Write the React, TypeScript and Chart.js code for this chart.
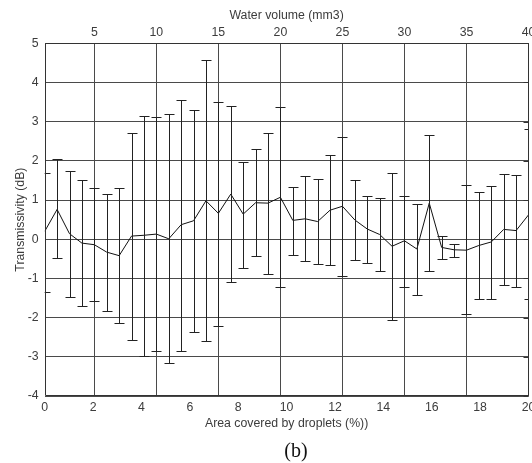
import React, { useEffect, useRef } from "react";
import { Chart, registerables } from "chart.js";

Chart.register(...registerables);

// Water volume (mm3) of each measurement
const waterVolume = [
  1, 2, 3, 4, 5, 6, 7, 8, 9, 10,
  11, 12, 13, 14, 15, 16, 17, 18, 19, 20,
  21, 22, 23, 24, 25, 26, 27, 28, 29, 30,
  31, 32, 33, 34, 35, 36, 37, 38, 39, 40,
];

// Mean transmissivity (dB)
const transmissivity = [
  0.2, 0.76, 0.14, -0.1, -0.14, -0.33, -0.42, 0.08, 0.1, 0.13,
  0.01, 0.37, 0.47, 0.98, 0.66, 1.15, 0.64, 0.93, 0.92, 1.07,
  0.48, 0.52, 0.45, 0.74, 0.84, 0.49, 0.26, 0.12, -0.18, -0.04,
  -0.25, 0.92, -0.21, -0.27, -0.28, -0.16, -0.07, 0.25, 0.22, 0.62,
];

// Error bar upper ends (dB)
const upperBound = [
  1.7, 2.04, 1.74, 1.51, 1.3, 1.15, 1.3, 2.71, 3.15, 3.11,
  3.2, 3.56, 3.29, 4.58, 3.51, 3.41, 1.96, 2.29, 2.7, 3.36,
  1.34, 1.6, 1.53, 2.14, 2.61, 1.52, 1.11, 1.06, 1.69, 1.1,
  0.91, 2.66, 0.07, -0.11, 1.37, 1.21, 1.36, 1.67, 1.64, 2.8,
];

// Error bar lower ends (dB)
const lowerBound = [
  -1.35, -0.47, -1.47, -1.71, -1.58, -1.82, -2.15, -2.56, -2.97, -2.84,
  -3.17, -2.84, -2.36, -2.6, -2.22, -1.08, -0.73, -0.42, -0.89, -1.21,
  -0.4, -0.56, -0.62, -0.67, -0.93, -0.52, -0.6, -0.82, -2.05, -1.21,
  -1.43, -0.82, -0.51, -0.45, -1.92, -1.52, -1.52, -1.18, -1.22, -1.52,
];

const volumeTicks = [5, 10, 15, 20, 25, 30, 35, 40];
const areaTicks = [0, 2, 4, 6, 8, 10, 12, 14, 16, 18, 20];
const yTicks = [-4, -3, -2, -1, 0, 1, 2, 3, 4, 5];

const FONT = "'Liberation Sans', Arial, sans-serif";
const FSIZE = 12.3;
const TEXT = "#3c3c3c";
const GRID = "#4a4a4a";
const FRAME = "#333333";

const errorBarPlugin = {
  id: "errorBars",
  afterDatasetsDraw(chart: any) {
    const { ctx, chartArea: a, scales } = chart;
    const xs = scales.xTop;
    const ys = scales.y;
    ctx.save();
    ctx.beginPath();
    ctx.rect(a.left, a.top, a.right - a.left, a.bottom - a.top);
    ctx.clip();
    ctx.strokeStyle = "#222222";
    ctx.lineWidth = 1;
    ctx.beginPath();
    waterVolume.forEach((v, i) => {
      const x = Math.round(xs.getPixelForValue(v)) + 0.5;
      const yU = Math.round(ys.getPixelForValue(upperBound[i])) + 0.5;
      const yL = Math.round(ys.getPixelForValue(lowerBound[i])) + 0.5;
      ctx.moveTo(x, yU);
      ctx.lineTo(x, yL);
      ctx.moveTo(x - 5, yU);
      ctx.lineTo(x + 5, yU);
      ctx.moveTo(x - 5, yL);
      ctx.lineTo(x + 5, yL);
    });
    ctx.stroke();
    ctx.restore();

    // frame and right-side tick marks
    ctx.save();
    ctx.strokeStyle = FRAME;
    ctx.lineWidth = 1;
    const l = Math.round(a.left) + 0.5;
    const r = Math.round(a.right) - 0.5;
    const t = Math.round(a.top) + 0.5;
    const b = Math.round(a.bottom) - 0.5;
    ctx.beginPath();
    ctx.moveTo(l, t);
    ctx.lineTo(r, t);
    ctx.lineTo(r, b);
    ctx.lineTo(l, b);
    ctx.closePath();
    yTicks.forEach((tv) => {
      const y = Math.round(ys.getPixelForValue(tv)) + 0.5;
      ctx.moveTo(r - 5, y);
      ctx.lineTo(r, y);
    });
    ctx.stroke();
    ctx.restore();
  },
};

export default function App() {
  const canvasRef = useRef<HTMLCanvasElement | null>(null);

  useEffect(() => {
    const canvas = canvasRef.current;
    if (!canvas) return;
    const font = { family: FONT, size: FSIZE };
    const chart = new Chart(canvas, {
      type: "line",
      data: {
        datasets: [
          {
            label: "Transmissivity",
            data: waterVolume.map((v, i) => ({ x: v, y: transmissivity[i] })),
            xAxisID: "xTop",
            yAxisID: "y",
            borderColor: "#111111",
            borderWidth: 1,
            pointRadius: 0,
            tension: 0,
            fill: false,
          },
        ],
      },
      options: {
        responsive: false,
        animation: false,
        events: [],
        layout: { padding: { left: 0, right: 3.5, top: 0, bottom: 27 } },
        plugins: {
          legend: { display: false },
          tooltip: { enabled: false },
          title: { display: false },
        },
        scales: {
          xTop: {
            type: "linear",
            position: "top",
            min: 1,
            max: 40,
            afterBuildTicks: (scale: any) => {
              scale.ticks = volumeTicks.map((v) => ({ value: v }));
            },
            grid: { color: GRID, lineWidth: 1, drawTicks: false },
            border: { display: false },
            ticks: {
              color: TEXT,
              font,
              padding: 3.5,
              maxRotation: 0,
              autoSkip: false,
            },
            title: {
              display: true,
              text: "Water volume (mm3)",
              color: TEXT,
              font,
              padding: { top: 8.6, bottom: 0 },
            },
            afterFit: (scale: any) => {
              scale.height = 43.2;
              scale.paddingLeft = 0;
              scale.paddingRight = 0;
            },
          },
          x: {
            type: "linear",
            position: "bottom",
            min: 0,
            max: 20,
            afterBuildTicks: (scale: any) => {
              scale.ticks = areaTicks.map((v) => ({ value: v }));
            },
            grid: { display: false, drawTicks: false },
            border: { display: false },
            ticks: {
              color: TEXT,
              font,
              padding: 4.6,
              maxRotation: 0,
              autoSkip: false,
            },
            title: {
              display: true,
              text: "Area covered by droplets (%))",
              color: TEXT,
              font,
              padding: { top: 0, bottom: 4.6 },
            },
            afterFit: (scale: any) => {
              scale.height = 40;
              scale.paddingLeft = 0;
              scale.paddingRight = 0;
            },
          },
          y: {
            type: "linear",
            position: "left",
            min: -4,
            max: 5,
            afterBuildTicks: (scale: any) => {
              scale.ticks = yTicks.map((v) => ({ value: v }));
            },
            grid: { color: GRID, lineWidth: 1, drawTicks: false },
            border: { display: false },
            ticks: {
              color: TEXT,
              font,
              padding: 6,
            },
            title: {
              display: true,
              text: "Transmissivity (dB)",
              color: TEXT,
              font,
              padding: { top: 13.6, bottom: 0 },
            },
            afterFit: (scale: any) => {
              scale.width = 44.7;
              scale.paddingTop = 0;
              scale.paddingBottom = 0;
            },
          },
        },
      },
      plugins: [errorBarPlugin],
    } as any);
    return () => chart.destroy();
  }, []);

  return (
    <div
      style={{
        position: "absolute",
        left: 0,
        top: 0,
        width: 532,
        height: 463,
        background: "#ffffff",
        overflow: "hidden",
      }}
    >
      <canvas
        ref={canvasRef}
        width={532}
        height={463}
        style={{ width: 532, height: 463, display: "block" }}
      />
      <div
        style={{
          position: "absolute",
          left: 296,
          top: 450,
          transform: "translate(-50%, -50%)",
          fontFamily: "'Liberation Serif', 'Times New Roman', serif",
          fontSize: 20,
          color: "#111111",
          whiteSpace: "nowrap",
          lineHeight: 1,
        }}
      >
        (b)
      </div>
    </div>
  );
}
